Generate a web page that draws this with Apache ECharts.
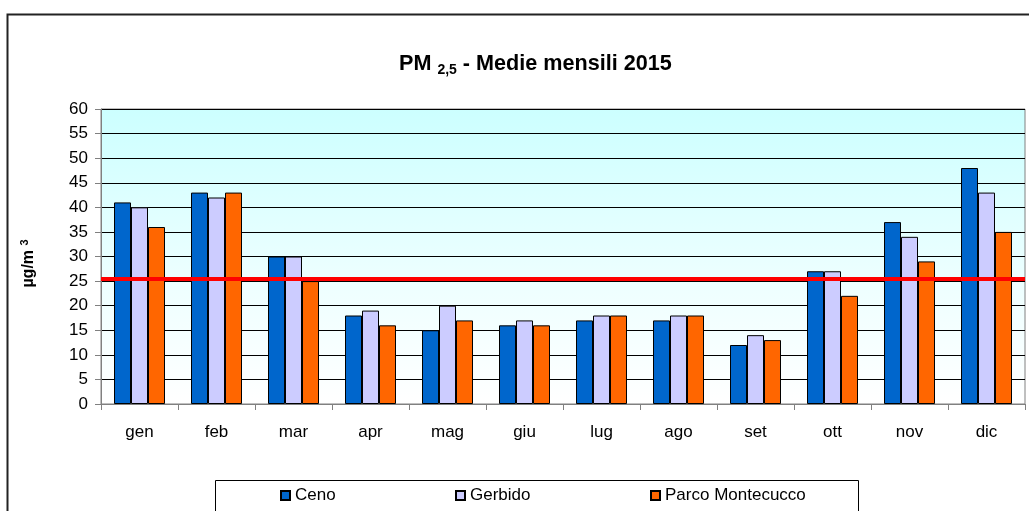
<!DOCTYPE html>
<html>
<head>
<meta charset="utf-8">
<script src="https://cdn.jsdelivr.net/npm/echarts@6/dist/echarts.min.js"></script>
<style>
  html, body { margin: 0; padding: 0; background: #fff; }
  #main { width: 1029px; height: 511px; }
</style>
</head>
<body>
<div id="main"></div>
<script>
const months = ['gen', 'feb', 'mar', 'apr', 'mag', 'giu', 'lug', 'ago', 'set', 'ott', 'nov', 'dic'];
const ceno = [41, 43, 30, 18, 15, 16, 17, 17, 12, 27, 37, 48];
const gerbido = [40, 42, 30, 19, 20, 17, 18, 18, 14, 27, 34, 43];
const parcoMontecucco = [36, 43, 25, 16, 17, 16, 18, 18, 13, 22, 29, 35];
const seriesNames = ['Ceno', 'Gerbido', 'Parco Montecucco'];
const limitValue = 25.5;

const chart = echarts.init(document.getElementById('main'));
const font = 'Liberation Sans, Arial, sans-serif';

function barSeries(name, data, color) {
  return {
    name: name,
    type: 'bar',
    data: data,
    barWidth: 17,
    barGap: '0%',
    itemStyle: { color: color, borderColor: '#000', borderWidth: 1 }
  };
}

const series = [
  barSeries(seriesNames[0], ceno, '#0066cc'),
  barSeries(seriesNames[1], gerbido, '#ccccff'),
  barSeries(seriesNames[2], parcoMontecucco, '#ff6600')
];
// limite annuale
series[0].markLine = {
  silent: true,
  symbol: 'none',
  label: { show: false },
  lineStyle: { color: '#ff0000', width: 4, type: 'solid' },
  data: [{ yAxis: limitValue }]
};

// una legenda per voce, dentro il riquadro disegnato a parte
const legendLeft = [280, 455, 650];
const legends = seriesNames.map((name, i) => ({
  data: [name],
  left: legendLeft[i],
  top: 487,
  padding: 0,
  itemWidth: 9,
  itemHeight: 9,
  icon: 'rect',
  textStyle: { fontFamily: font, fontSize: 17, color: '#000' }
}));

const option = {
  animation: false,
  backgroundColor: '#fff',
  textStyle: { fontFamily: font },
  title: {
    text: '{a|PM }{s|2,5}{a| - Medie mensili 2015}',
    left: 394,
    top: 47,
    textStyle: {
      rich: {
        a: { fontFamily: font, fontSize: 21.6, fontWeight: 'bold', color: '#000' },
        s: { fontFamily: font, fontSize: 14, fontWeight: 'bold', color: '#000', padding: [11, 0, 0, 0] }
      }
    }
  },
  graphic: [{
    type: 'polyline',
    shape: { points: [[7.5, 530], [7.5, 14.5], [1040, 14.5]] },
    style: { stroke: '#222', lineWidth: 2, fill: null },
    silent: true
  }, {
    type: 'rect',
    shape: { x: 215.5, y: 480.5, width: 643, height: 60 },
    style: { stroke: '#000', lineWidth: 1, fill: null },
    silent: true
  }],
  legend: legends,
  grid: {
    left: 101,
    right: 4,
    top: 109,
    bottom: 107,
    show: true,
    borderColor: '#808080',
    borderWidth: 1,
    backgroundColor: {
      type: 'linear', x: 0, y: 0, x2: 0, y2: 1,
      colorStops: [
        { offset: 0, color: '#ccffff' },
        { offset: 0.6, color: '#eeffff' },
        { offset: 1, color: '#ffffff' }
      ]
    }
  },
  xAxis: {
    type: 'category',
    data: months,
    axisLine: { lineStyle: { color: '#808080' } },
    axisTick: { show: true, length: 6, lineStyle: { color: '#808080' } },
    axisLabel: { color: '#000', fontSize: 17, margin: 20, fontFamily: font }
  },
  yAxis: {
    type: 'value',
    min: 0,
    max: 60,
    interval: 5,
    name: '{a|µg/m }{s|3}',
    nameLocation: 'middle',
    nameRotate: 90,
    nameGap: 62,
    nameTextStyle: {
      rich: {
        a: { fontFamily: font, fontSize: 16, fontWeight: 'bold', color: '#000' },
        s: { fontFamily: font, fontSize: 11, fontWeight: 'bold', color: '#000', padding: [0, 14, 9, 0] }
      }
    },
    axisLine: { show: true, lineStyle: { color: '#808080' } },
    axisTick: { show: true, length: 6, lineStyle: { color: '#808080' } },
    axisLabel: { color: '#000', fontSize: 17, margin: 13, fontFamily: font },
    splitLine: { lineStyle: { color: '#000', width: 1 } }
  },
  series: series
};

chart.setOption(option);
</script>
</body>
</html>
